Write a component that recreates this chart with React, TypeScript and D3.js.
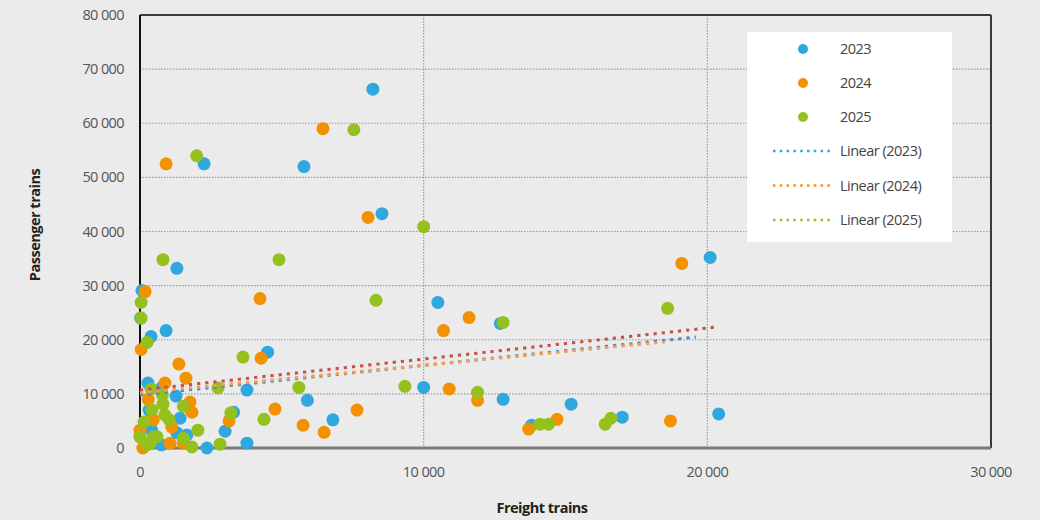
import React from 'react';
import * as d3 from 'd3';

// [freight trains, passenger trains]
const data2023: [number, number][] = [
  [8210, 66300], [5780, 52000], [2260, 52500], [8530, 43300], [1300, 33200], [20100, 35200],
  [10500, 26900], [70, 29100], [920, 21700], [390, 20600], [12700, 23000], [4500, 17700],
  [280, 12000], [10000, 11200], [5900, 8800], [12800, 9000], [15200, 8100], [17000, 5700],
  [20400, 6300], [13800, 4200], [6800, 5200], [3770, 10700], [3300, 6600], [3000, 3100],
  [3770, 900], [2360, 0], [1270, 9600], [1410, 5500], [760, 11100], [320, 7000], [1650, 2400],
  [760, 550], [0, 2100], [410, 3300], [1300, 2800], [20, 24000],
];
const data2024: [number, number][] = [
  [920, 52500], [6450, 59000], [8040, 42600], [4230, 27600], [19100, 34100], [10700, 21700],
  [11600, 24100], [40, 18200], [1370, 15500], [4270, 16600], [1620, 12900], [880, 12000],
  [10900, 10900], [11900, 8800], [7650, 7000], [4760, 7200], [3140, 5000], [5750, 4200],
  [6490, 2900], [13700, 3500], [14700, 5300], [18700, 5000], [1830, 6600], [290, 9000],
  [1760, 8500], [470, 5200], [1120, 3900], [0, 3300], [1060, 900], [1530, 900], [100, 0],
  [180, 28900],
];
const data2025: [number, number][] = [
  [2000, 54000], [7540, 58800], [10000, 40900], [810, 34800], [4900, 34800], [8320, 27300],
  [18600, 25800], [12800, 23200], [40, 26900], [40, 24000], [250, 19500], [3630, 16800],
  [5600, 11200], [9340, 11400], [11900, 10300], [2750, 11100], [810, 8100], [880, 6100],
  [420, 7000], [4370, 5300], [3200, 6500], [2040, 3300], [14100, 4400], [14400, 4400],
  [16400, 4400], [16600, 5500], [1830, 200], [2820, 700], [1530, 1800], [1030, 5200],
  [1530, 7700], [140, 4800], [240, 550], [470, 2100], [390, 10900], [790, 9800], [0, 2100],
  [350, 800], [600, 2100],
];

// trend lines as drawn: [start, end] points
const trend2023: [number, number][] = [[0, 10700], [20400, 22400]];
const trend2024: [number, number][] = [[0, 9800], [19600, 20500]];
const trend2025: [number, number][] = [[0, 10200], [18500, 19600]];

const xTicks = [0, 10000, 20000, 30000];
const yTicks = [0, 10000, 20000, 30000, 40000, 50000, 60000, 70000, 80000];
const years = ['2023', '2024', '2025'];

const BLUE = '#2fa8e0';
const ORANGE = '#f39200';
const GREEN = '#95c11f';
const FONT = '"Open Sans", "Noto Sans", sans-serif';

const fmt = (v: number) => d3.format(',')(v).replace(/,/g, ' ');

export default function App() {
  const width = 1040;
  const height = 520;
  const x = d3.scaleLinear().domain([0, 30000]).range([140, 991]);
  const y = d3.scaleLinear().domain([0, 80000]).range([448, 15]);
  const line = d3.line<[number, number]>().x(d => x(d[0])).y(d => y(d[1]));

  const series = [
    { data: data2023, color: BLUE },
    { data: data2024, color: ORANGE },
    { data: data2025, color: GREEN },
  ];
  const trends = [
    { data: trend2023, color: '#c5504b' },
    { data: trend2024, color: '#4f86c6' },
    { data: trend2025, color: '#f5a050' },
  ];

  const legendX = 747;
  const legendY = 32;

  return (
    <svg width={width} height={height} style={{ position: 'absolute', left: 0, top: 0 }} fontFamily={FONT}>
      <rect width={width} height={height} fill="#ebebeb" />

      {/* grid */}
      {yTicks.slice(1, -1).map(t => (
        <line key={'gy' + t} x1={x(0)} x2={x(30000)} y1={y(t)} y2={y(t)}
          stroke="#9a9a9a" strokeWidth={1.2} strokeDasharray="1.5 1.5" />
      ))}
      {xTicks.slice(1, -1).map(t => (
        <line key={'gx' + t} x1={x(t)} x2={x(t)} y1={y(80000)} y2={y(0)}
          stroke="#9a9a9a" strokeWidth={1.2} strokeDasharray="1.5 1.5" />
      ))}

      {/* legend box */}
      <rect x={legendX} y={legendY} width={205} height={210} fill="#ffffff" />

      {/* frame */}
      <line x1={x(0)} x2={x(30000)} y1={y(80000)} y2={y(80000)} stroke="#3a3a3a" strokeWidth={2} />
      <line x1={x(30000)} x2={x(30000)} y1={y(80000)} y2={y(0)} stroke="#3a3a3a" strokeWidth={2} />
      <line x1={x(0)} x2={x(0)} y1={y(80000)} y2={y(0)} stroke="#111" strokeWidth={2} />
      <line x1={x(0)} x2={x(30000)} y1={y(0)} y2={y(0)} stroke="#7a7a7a" strokeWidth={3} />

      {/* points */}
      {series.map((s, i) => (
        <g key={'s' + i}>
          {s.data.map((d, j) => (
            <circle key={j} cx={x(d[0])} cy={y(d[1])} r={6.5} fill={s.color} />
          ))}
        </g>
      ))}

      {/* trend lines */}
      {trends.map((t, i) => (
        <path key={'t' + i} d={line(t.data) || ''} fill="none" stroke={t.color}
          strokeWidth={3} strokeDasharray="3.2 5" />
      ))}

      {/* y axis labels */}
      {yTicks.map(t => (
        <text key={'yl' + t} x={124} y={y(t)} dy="0.35em" textAnchor="end" fontSize={14.5} fill="#555"
          letterSpacing={-0.6}>{fmt(t)}</text>
      ))}
      {/* x axis labels */}
      {xTicks.map(t => (
        <text key={'xl' + t} x={x(t)} y={472} dy="0.35em" textAnchor="middle" fontSize={14.5} fill="#555"
          letterSpacing={-0.6}>{fmt(t)}</text>
      ))}

      <text x={542} y={508} dy="0.35em" textAnchor="middle" fontSize={14.5} fontWeight={700} fill="#222"
        letterSpacing={-0.5}>Freight trains</text>
      <text transform={`translate(35,225) rotate(-90)`} dy="0.35em" textAnchor="middle" fontSize={14.5}
        fontWeight={700} fill="#222" letterSpacing={-0.5}>Passenger trains</text>

      {/* legend */}
      {years.map((yr, i) => (
        <g key={'lg' + yr} transform={`translate(0,${49 + i * 34})`}>
          <circle cx={803} cy={0} r={5} fill={series[i].color} />
          <text x={840} y={0} dy="0.35em" fontSize={14.5} fill="#444" letterSpacing={-0.5}>{yr}</text>
        </g>
      ))}
      {years.map((yr, i) => (
        <g key={'lt' + yr} transform={`translate(0,${151 + i * 34.5})`}>
          <line x1={773} x2={834} y1={0} y2={0} stroke={series[i].color} strokeWidth={2.5} strokeDasharray="2.5 4.3" />
          <text x={840} y={0} dy="0.35em" fontSize={14.5} fill="#444" letterSpacing={-0.5}>{`Linear (${yr})`}</text>
        </g>
      ))}
    </svg>
  );
}
